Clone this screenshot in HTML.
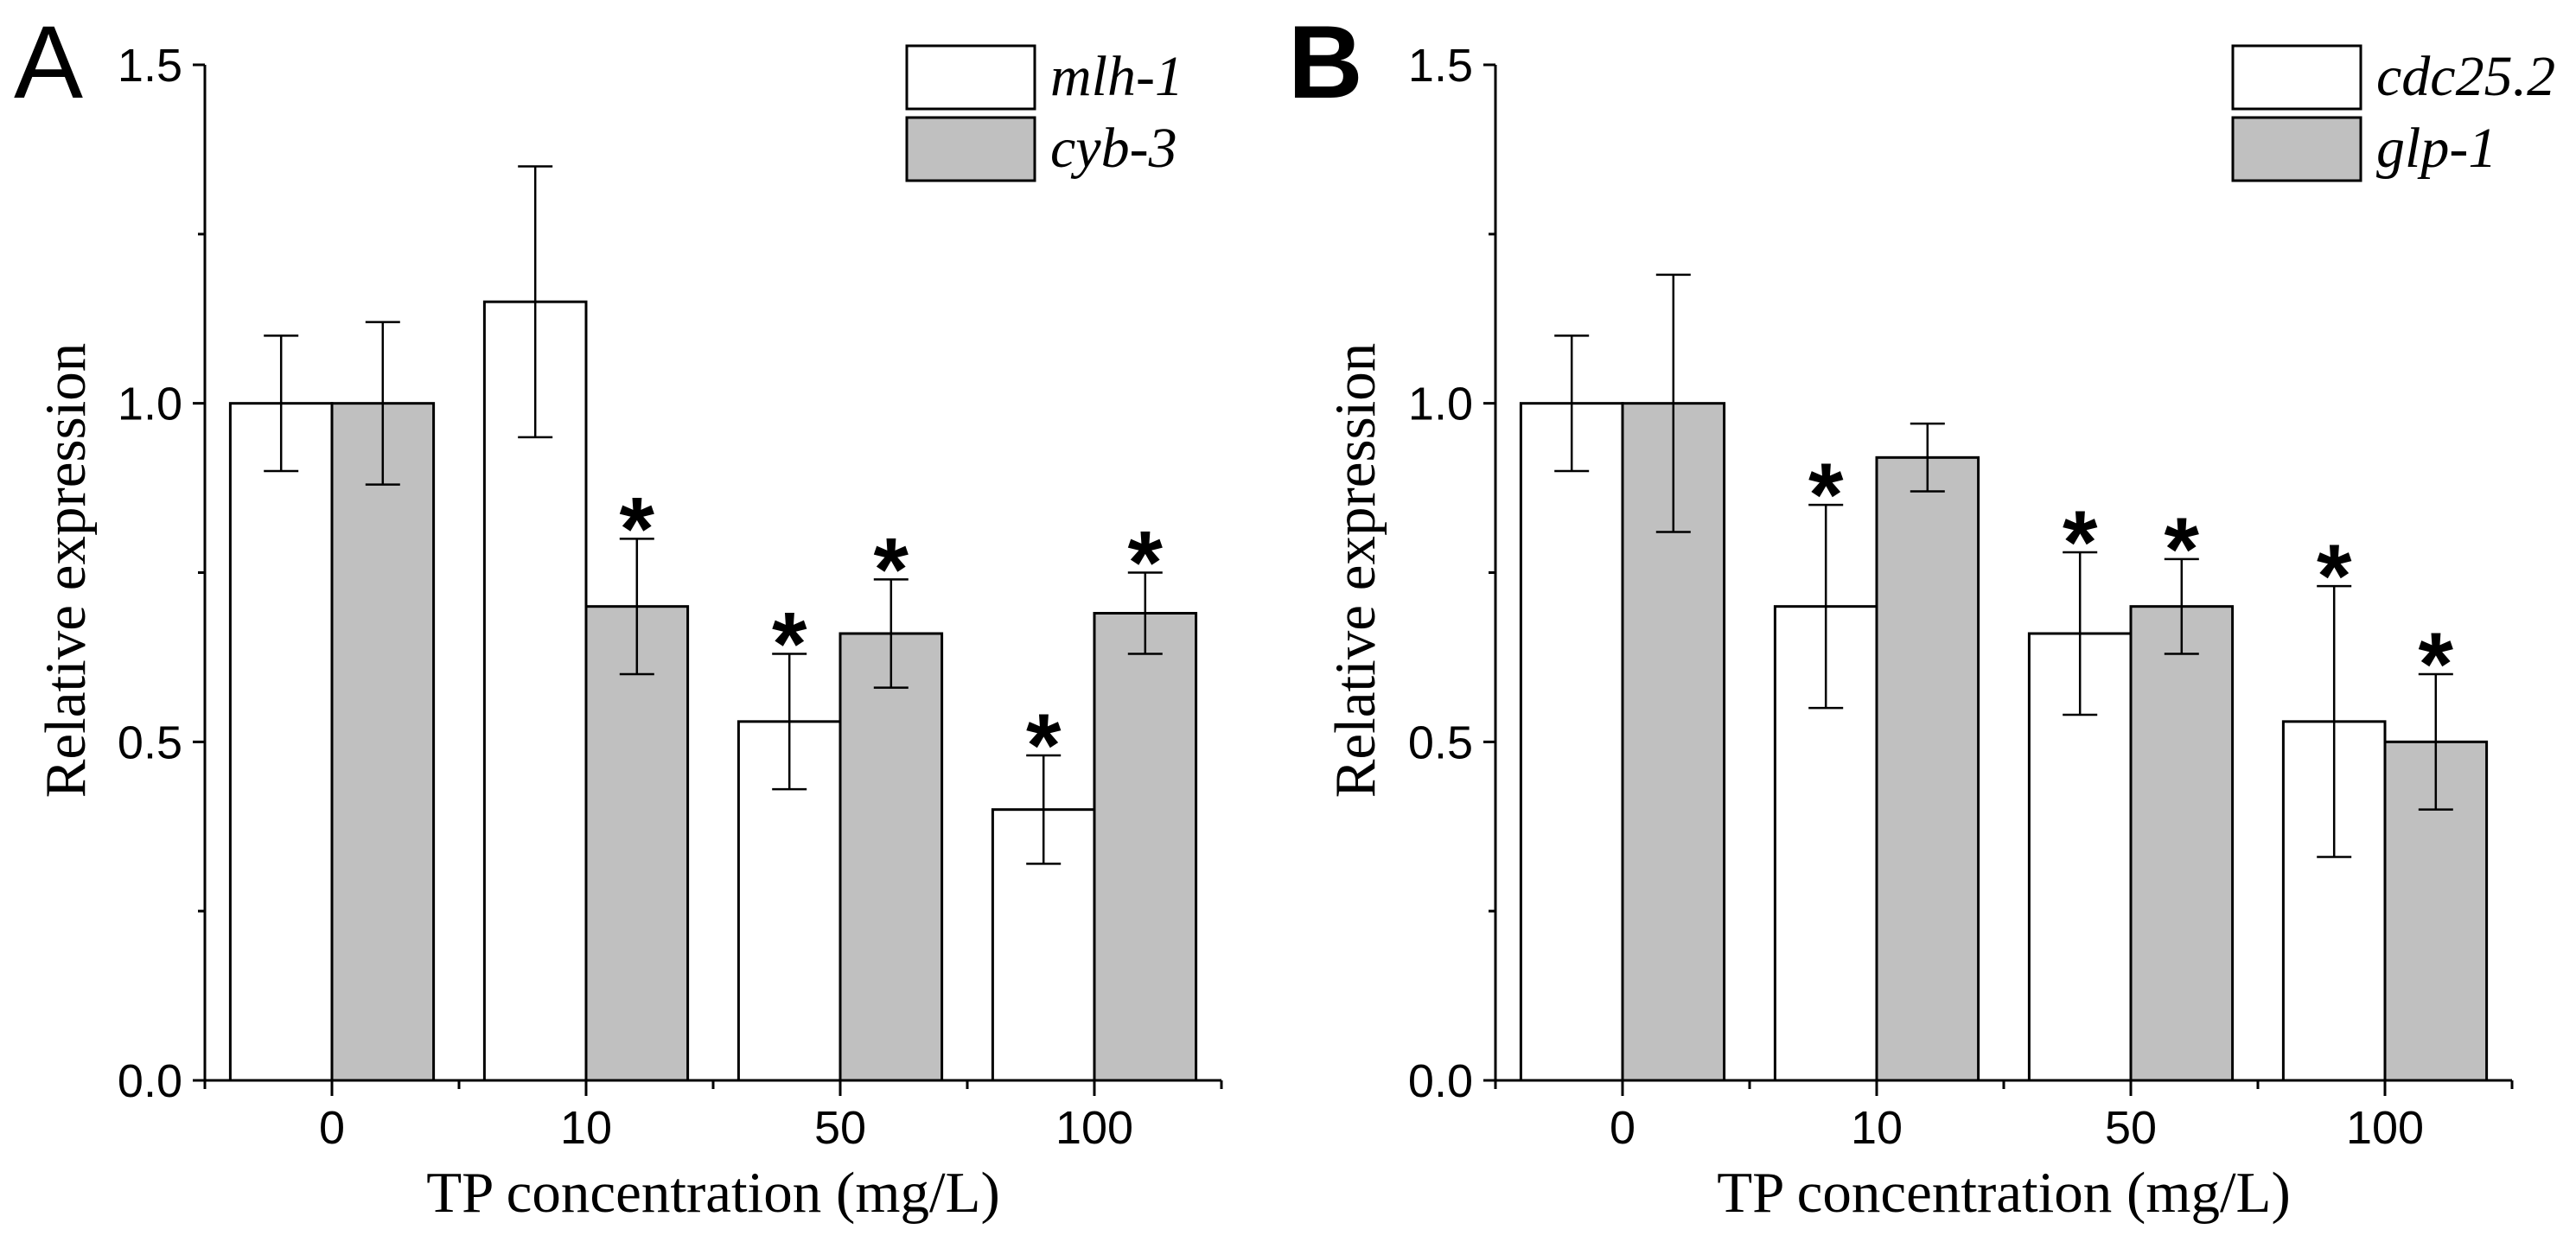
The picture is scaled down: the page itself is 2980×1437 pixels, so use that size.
<!DOCTYPE html>
<html><head><meta charset="utf-8"><style>
html,body{margin:0;padding:0;background:#fff;}
svg{display:block;}
</style></head><body>
<svg id="fig" width="2980" height="1437" xmlns="http://www.w3.org/2000/svg"></svg>
<script>
const categories = ["0","10","50","100"];
const yTicks = [0.0, 0.5, 1.0, 1.5];
const yTickLabels = ["0.0","0.5","1.0","1.5"];
const aSeries1Name = "mlh-1";
const aSeries2Name = "cyb-3";
const aSeries1 = [1.0, 1.15, 0.53, 0.40];
const aSeries1Err = [0.10, 0.20, 0.10, 0.08];
const aSeries2 = [1.0, 0.70, 0.66, 0.69];
const aSeries2Err = [0.12, 0.10, 0.08, 0.06];
const aStars1 = [false, false, true, true];
const aStars2 = [false, true, true, true];
const bSeries1Name = "cdc25.2";
const bSeries2Name = "glp-1";
const bSeries1 = [1.0, 0.70, 0.66, 0.53];
const bSeries1Err = [0.10, 0.15, 0.12, 0.20];
const bSeries2 = [1.0, 0.92, 0.70, 0.50];
const bSeries2Err = [0.19, 0.05, 0.07, 0.10];
const bStars1 = [false, true, true, true];
const bStars2 = [false, false, true, true];

const NS = "http://www.w3.org/2000/svg";
const svg = document.getElementById("fig");
function mk(tag, attrs, parent){
  const e = document.createElementNS(NS, tag);
  for (const k in attrs) e.setAttribute(k, attrs[k]);
  (parent||svg).appendChild(e);
  return e;
}
function panel(cfg){
  const g = mk("g", {});
  
  
  const y0 = 1250, y15 = 75;
  const yS = v => y0 - v * (y0 - y15) / 1.5;
  const ax = cfg.axisX, xEnd = cfg.xEnd;
  const step = (xEnd - ax) / categories.length;
  const xC = i => ax + step * (i + 0.5);
  const bw = step * 0.4;
  for (let i = 0; i < categories.length; i++) {
    const c = xC(i);
    const v1 = cfg.s1[i], v2 = cfg.s2[i];
    const r1 = mk("rect", {x: c - bw, y: yS(v1), width: bw, height: yS(0) - yS(v1), fill: "#fff", stroke: "#000", "stroke-width": 3}, g);
    
    
    const r2 = mk("rect", {x: c, y: yS(v2), width: bw, height: yS(0) - yS(v2), fill: "#c0c0c0", stroke: "#000", "stroke-width": 3}, g);
    
    
    const pairs = [[c - bw/2, v1, cfg.e1[i], cfg.st1[i], cfg.n1], [c + bw/2, v2, cfg.e2[i], cfg.st2[i], cfg.n2]];
    for (const [x, v, e, st, nm] of pairs) {
      const eb = mk("path", {d: `M${x},${yS(v-e)}V${yS(v+e)}M${x-20},${yS(v+e)}H${x+20}M${x-20},${yS(v-e)}H${x+20}`, stroke: "#000", "stroke-width": 2.5, fill: "none"}, g);
      
      
      if (st) {
        const t = mk("text", {x: x, y: yS(v+e) + 24, "text-anchor": "middle", "font-family": "Liberation Sans, sans-serif", "font-weight": "bold", "font-size": 104}, g);
        t.textContent = "*";
        
        
      }
    }
  }
  const axes = mk("path", {d: `M${ax},${y15}V${y0}M${ax-10},${y0}H${xEnd}`, stroke: "#000", "stroke-width": 3, fill: "none"}, g);
  
  
  let td = "";
  for (let v = 0; v <= 1.5001; v += 0.25) {
    const major = Math.abs(v*2 - Math.round(v*2)) < 1e-6;
    td += `M${ax - (major ? 14 : 8)},${yS(v)}H${ax}`;
  }
  for (let i = 0; i <= categories.length; i++) td += `M${ax + step*i},${y0}v10`;
  for (let i = 0; i < categories.length; i++) td += `M${xC(i)},${y0}v18`;
  const ticks = mk("path", {d: td, stroke: "#000", "stroke-width": 3, fill: "none"}, g);
  
  
  for (let k = 0; k < yTicks.length; k++) {
    const t = mk("text", {x: ax - 26, y: yS(yTicks[k]) + 19, "text-anchor": "end", "font-family": "Liberation Sans, sans-serif", "font-size": 54}, g);
    t.textContent = yTickLabels[k];
    
    
  }
  for (let i = 0; i < categories.length; i++) {
    const t = mk("text", {x: xC(i), y: 1323, "text-anchor": "middle", "font-family": "Liberation Sans, sans-serif", "font-size": 54}, g);
    t.textContent = categories[i];
    
    
  }
  const xt = mk("text", {x: (ax + xEnd)/2, y: 1402, "text-anchor": "middle", "font-family": "Liberation Serif, serif", "font-size": 67}, g);
  xt.textContent = "TP concentration (mg/L)";
  
  
  const yt = mk("text", {x: 0, y: 0, "text-anchor": "middle", "font-family": "Liberation Serif, serif", "font-size": 67, transform: `translate(${cfg.ytX},660) rotate(-90)`}, g);
  yt.textContent = "Relative expression";
  
  
  const lab = mk("text", {x: cfg.labX, y: 113, "font-family": "Liberation Sans, sans-serif", "font-weight": cfg.labW, "font-size": 120}, g);
  lab.textContent = cfg.label;
  
  
  const lx = cfg.legX;
  const items = [[cfg.n1, "#fff", 53], [cfg.n2, "#c0c0c0", 136]];
  for (const [nm, fill, y] of items) {
    const lg = mk("g", {}, g);
    
    
    mk("rect", {x: lx, y: y, width: 148, height: 73, fill: fill, stroke: "#000", "stroke-width": 3}, lg);
    const t = mk("text", {x: lx + 166, y: y + 57, "font-family": "Liberation Serif, serif", "font-style": "italic", "font-size": 66}, lg);
    t.textContent = nm;
  }
}
panel({id:"panel-a", axisX:237, xEnd:1413, s1:aSeries1, e1:aSeries1Err, s2:aSeries2, e2:aSeries2Err, st1:aStars1, st2:aStars2, n1:aSeries1Name, n2:aSeries2Name, ytX:98, labX:16, labW:"normal", label:"A", legX:1049});
panel({id:"panel-b", axisX:1730, xEnd:2906, s1:bSeries1, e1:bSeries1Err, s2:bSeries2, e2:bSeries2Err, st1:bStars1, st2:bStars2, n1:bSeries1Name, n2:bSeries2Name, ytX:1590, labX:1490, labW:"bold", label:"B", legX:2583});
</script>
</body></html>
